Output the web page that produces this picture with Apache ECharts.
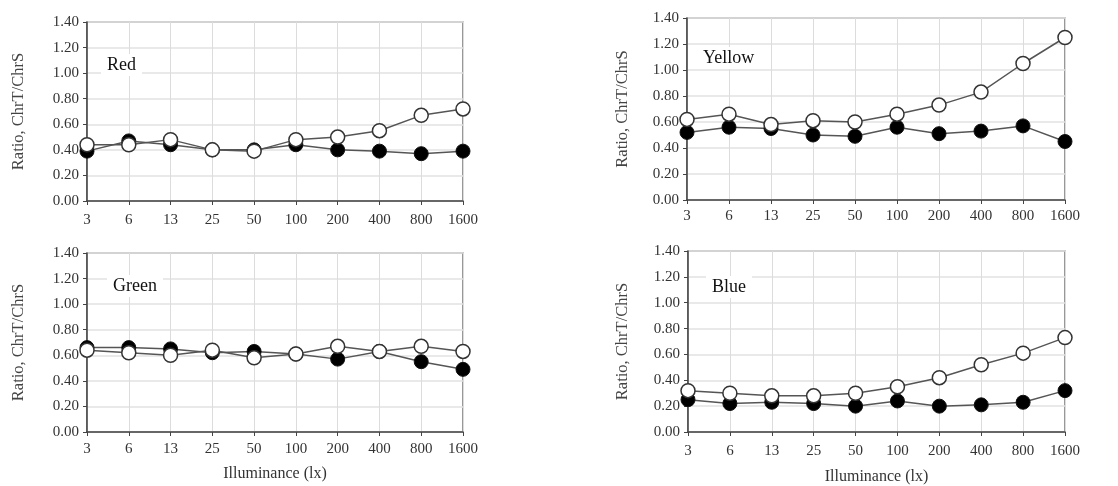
<!DOCTYPE html>
<html>
<head>
<meta charset="utf-8">
<script src="https://cdn.jsdelivr.net/npm/echarts@6/dist/echarts.min.js"></script>
<style>
  html, body { margin: 0; padding: 0; background: #fff; }
  #chart { width: 1118px; height: 486px; }
</style>
</head>
<body>
<div id="chart"></div>
<script>
// illuminance levels (lx)
const lux = ['3', '6', '13', '25', '50', '100', '200', '400', '800', '1600'];

// filled circles / open circles
const redFilled    = [0.39, 0.47, 0.44, 0.40, 0.40, 0.44, 0.40, 0.39, 0.37, 0.39];
const redOpen      = [0.44, 0.44, 0.48, 0.40, 0.39, 0.48, 0.50, 0.55, 0.67, 0.72];
const yellowFilled = [0.52, 0.56, 0.55, 0.50, 0.49, 0.56, 0.51, 0.53, 0.57, 0.45];
const yellowOpen   = [0.62, 0.66, 0.58, 0.61, 0.60, 0.66, 0.73, 0.83, 1.05, 1.25];
const greenFilled  = [0.66, 0.66, 0.65, 0.62, 0.63, 0.61, 0.57, 0.63, 0.55, 0.49];
const greenOpen    = [0.64, 0.62, 0.60, 0.64, 0.58, 0.61, 0.67, 0.63, 0.67, 0.63];
const blueFilled   = [0.25, 0.22, 0.23, 0.22, 0.20, 0.24, 0.20, 0.21, 0.23, 0.32];
const blueOpen     = [0.32, 0.30, 0.28, 0.28, 0.30, 0.35, 0.42, 0.52, 0.61, 0.73];

const panels = [
    { name: 'Red',    filled: redFilled,    open: redOpen,    grid: { left: 87,  top: 22,  width: 376, height: 179 }, label: [101, 54],  yGap: 60, xMargin: 12, xName: '' },
    { name: 'Yellow', filled: yellowFilled, open: yellowOpen, grid: { left: 687, top: 18,  width: 378, height: 182 }, label: [697, 47],  yGap: 56, xMargin: 9,  xName: '' },
    { name: 'Green',  filled: greenFilled,  open: greenOpen,  grid: { left: 87,  top: 253, width: 376, height: 179 }, label: [107, 275], yGap: 60, xMargin: 10, xName: 'Illuminance (lx)', xGap: 34 },
    { name: 'Blue',   filled: blueFilled,   open: blueOpen,   grid: { left: 688, top: 251, width: 377, height: 183 }, label: [706, 276], yGap: 57, xMargin: 12, xName: 'Illuminance (lx)', xGap: 37 }
];

const font = 'Liberation Serif, Times New Roman, serif';
const myChart = echarts.init(document.getElementById('chart'));

let grids = [], xAxes = [], yAxes = [], series = [], titles = [];
panels.forEach(function (p, i) {
    grids.push(Object.assign({ show: true, borderColor: '#555', borderWidth: 1.2, backgroundColor: '#fff' }, p.grid));
    xAxes.push({
        type: 'category',
        gridIndex: i,
        data: lux,
        boundaryGap: false,
        name: p.xName,
        nameLocation: 'middle',
        nameGap: p.xGap || 30,
        nameTextStyle: { fontFamily: font, fontSize: 16, color: '#333' },
        axisLine: { lineStyle: { color: '#444', width: 1.5 } },
        axisTick: { show: true, length: 4, alignWithLabel: true, lineStyle: { color: '#444' } },
        axisLabel: { fontFamily: font, fontSize: 15, color: '#333', margin: p.xMargin, interval: 0 },
        splitLine: { show: true, lineStyle: { color: '#dcdcdc' } }
    });
    yAxes.push({
        type: 'value',
        gridIndex: i,
        min: 0,
        max: 1.4,
        interval: 0.2,
        name: 'Ratio, ChrT/ChrS',
        nameLocation: 'middle',
        nameGap: p.yGap,
        nameTextStyle: { fontFamily: font, fontSize: 16.5, color: '#444' },
        axisLine: { show: true, lineStyle: { color: '#444', width: 1.5 } },
        axisTick: { show: true, length: 4, lineStyle: { color: '#444' } },
        axisLabel: {
            fontFamily: font, fontSize: 15, color: '#333', margin: 8,
            formatter: function (v) { return v.toFixed(2); }
        },
        splitLine: { show: true, lineStyle: { color: '#e2e2e2', width: 1.5 } }
    });
    series.push({
        type: 'line',
        xAxisIndex: i,
        yAxisIndex: i,
        data: p.filled,
        symbol: 'circle',
        symbolSize: 14,
        lineStyle: { color: '#555', width: 1.5 },
        itemStyle: { color: '#000', borderColor: '#111', borderWidth: 1 },
        z: 3
    });
    series.push({
        type: 'line',
        xAxisIndex: i,
        yAxisIndex: i,
        data: p.open,
        symbol: 'circle',
        symbolSize: 14,
        lineStyle: { color: '#555', width: 1.5 },
        itemStyle: { color: '#fff', borderColor: '#333', borderWidth: 1.5 },
        z: 4
    });
    titles.push({
        text: p.name,
        left: p.label[0],
        top: p.label[1],
        padding: [2, 6],
        backgroundColor: '#fff',
        textStyle: { fontFamily: font, fontSize: 18, fontWeight: 'normal', color: '#111' },
        z: 10
    });
});

let option = {
    animation: false,
    backgroundColor: '#fff',
    title: titles,
    grid: grids,
    xAxis: xAxes,
    yAxis: yAxes,
    series: series
};
myChart.setOption(option);
</script>
</body>
</html>
